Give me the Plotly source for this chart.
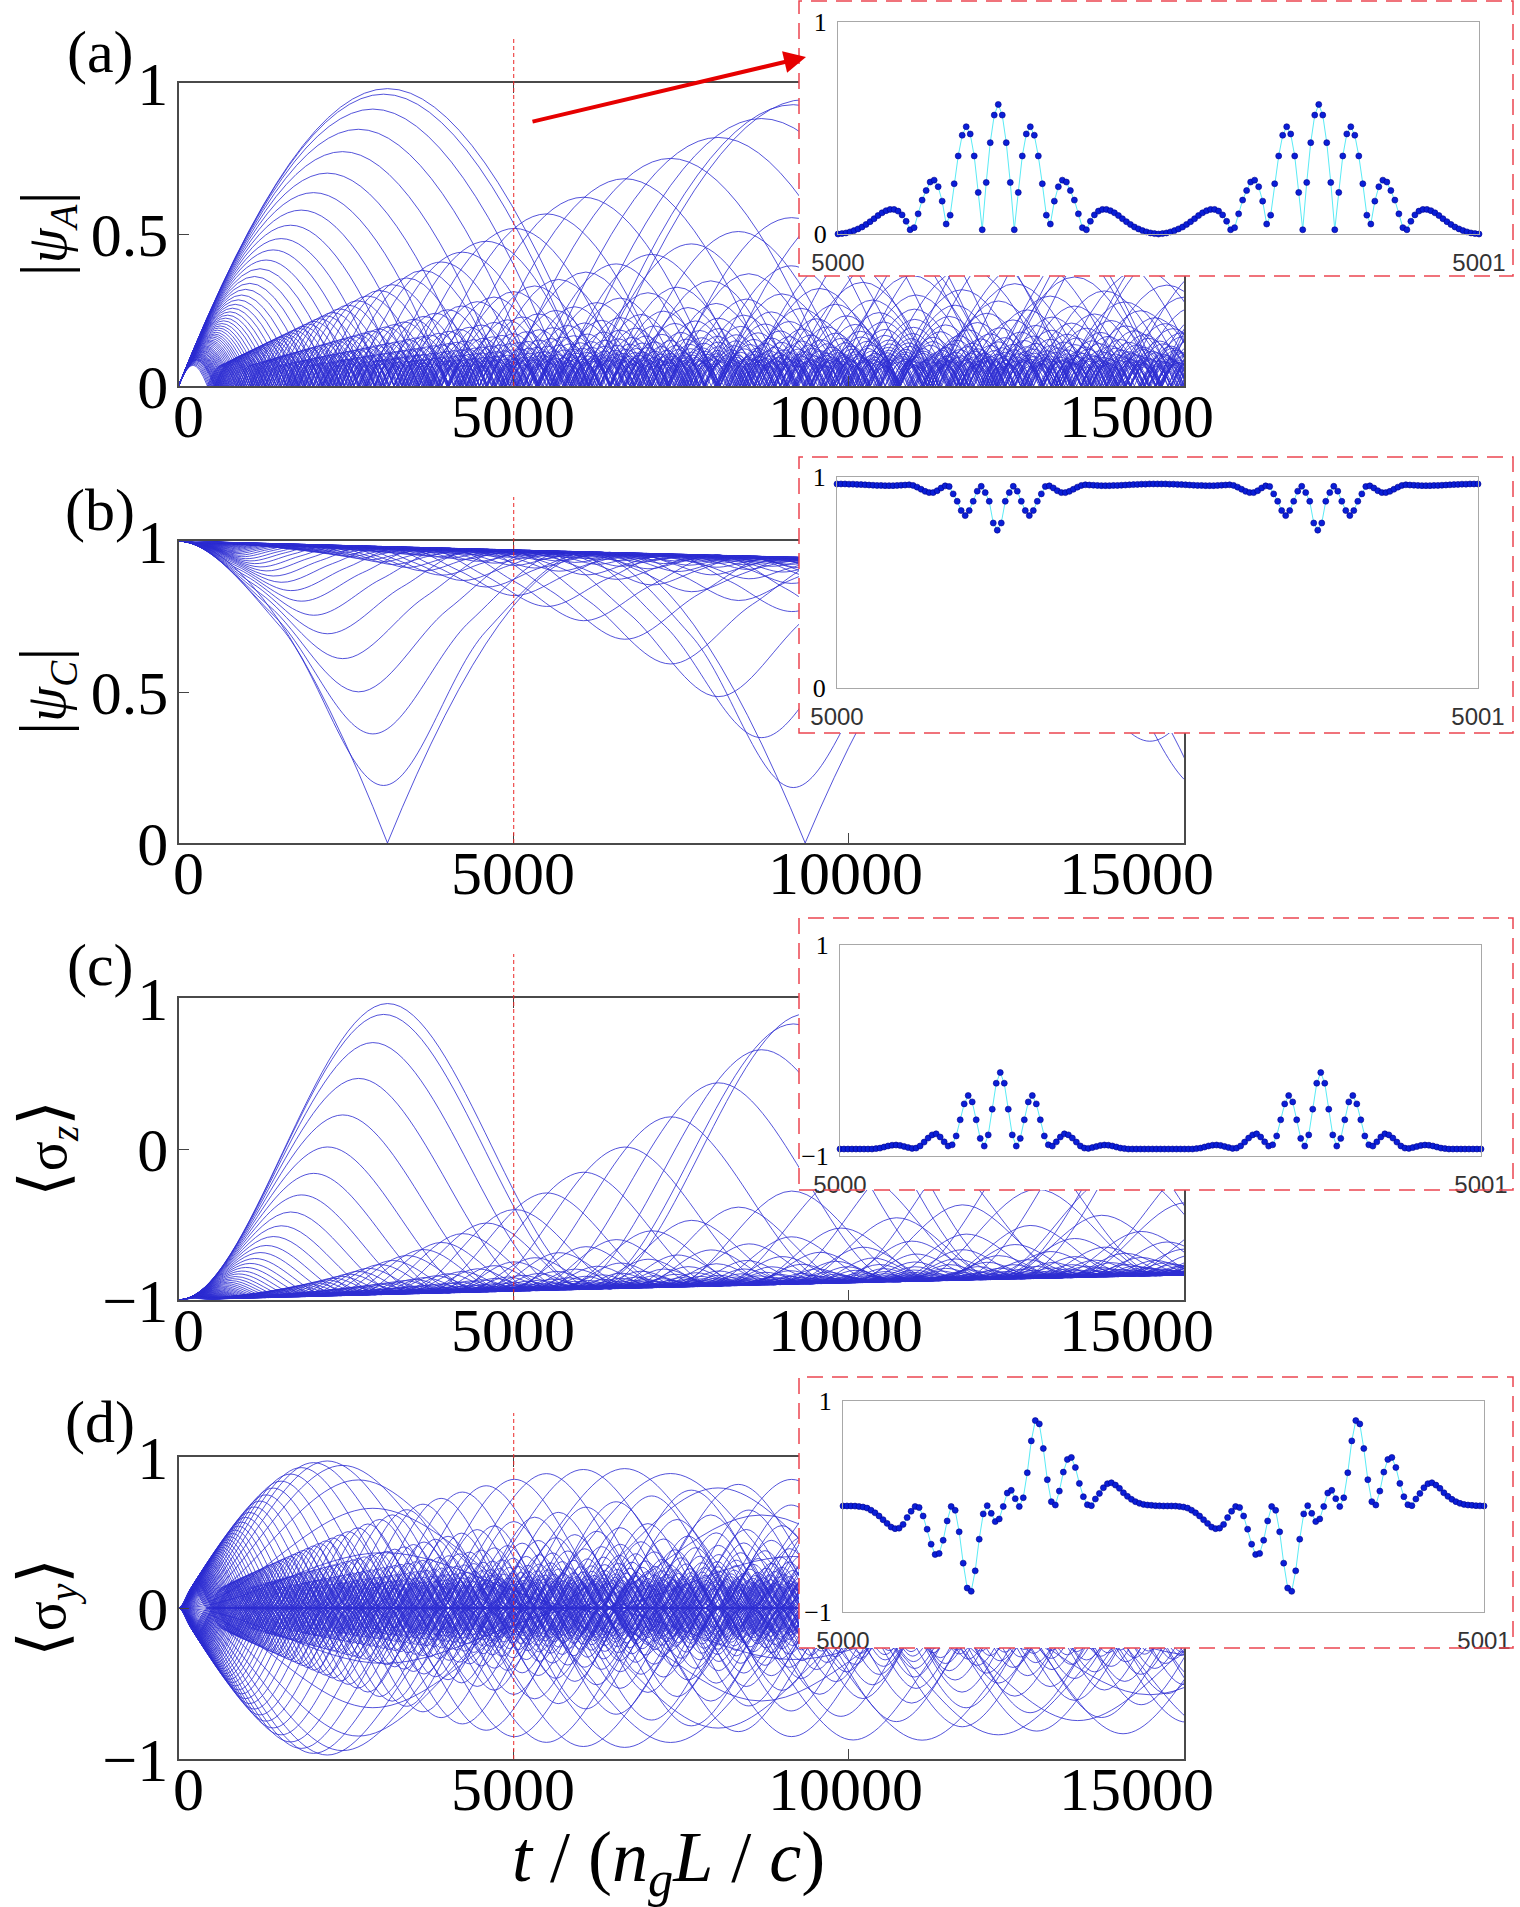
import numpy as np
import plotly.graph_objects as go

T_RES = 3116
LOSS = 6.0e-6
T_MAX = 15000

# first-arch peak height of each |psi_A| curve in (a), outermost to innermost
peak_amp = [1.000, 0.981, 0.930, 0.861, 0.785, 0.712, 0.646, 0.587, 0.536, 0.491,
            0.453, 0.419, 0.390, 0.364, 0.341, 0.321, 0.302, 0.286, 0.271, 0.258,
            0.246, 0.235, 0.225, 0.216, 0.207, 0.199, 0.192, 0.185, 0.178, 0.172,
            0.167, 0.162, 0.157, 0.152, 0.148, 0.144, 0.140, 0.136, 0.132, 0.129,
            0.126, 0.123, 0.120, 0.117, 0.115, 0.112, 0.110, 0.107, 0.105, 0.103,
            0.101, 0.099, 0.097, 0.095, 0.094, 0.092, 0.090, 0.089, 0.087, 0.086, 0.084,
            0.081, 0.078, 0.075, 0.072, 0.069]

# insets: one half round trip (80 samples from 5000 on), the second half repeats it
inset_a = [0.000, 0.002, 0.005, 0.010, 0.016, 0.024, 0.033, 0.045, 0.058, 0.072,
           0.087, 0.100, 0.110, 0.116, 0.116, 0.108, 0.090, 0.060, 0.020, 0.030,
           0.095, 0.160, 0.205, 0.245, 0.254, 0.223, 0.155, 0.047, 0.089, 0.237,
           0.368, 0.466, 0.506, 0.472, 0.368, 0.196, 0.020, 0.243, 0.431, 0.561,
           0.611, 0.561, 0.431, 0.243, 0.020, 0.196, 0.368, 0.472, 0.506, 0.466,
           0.368, 0.237, 0.089, 0.047, 0.155, 0.223, 0.254, 0.245, 0.205, 0.160,
           0.095, 0.030, 0.020, 0.060, 0.090, 0.108, 0.116, 0.116, 0.110, 0.100,
           0.087, 0.072, 0.058, 0.045, 0.033, 0.024, 0.016, 0.010, 0.005, 0.002]
inset_b = [0.967, 0.967, 0.967, 0.966, 0.966, 0.965, 0.964, 0.963, 0.962, 0.961,
           0.960, 0.960, 0.959, 0.959, 0.959, 0.960, 0.961, 0.962, 0.963, 0.960,
           0.952, 0.942, 0.932, 0.926, 0.926, 0.935, 0.948, 0.958, 0.955, 0.920,
           0.885, 0.841, 0.817, 0.841, 0.885, 0.933, 0.956, 0.926, 0.885, 0.782,
           0.748, 0.782, 0.885, 0.926, 0.956, 0.933, 0.885, 0.841, 0.817, 0.841,
           0.885, 0.920, 0.955, 0.958, 0.948, 0.935, 0.926, 0.926, 0.932, 0.942,
           0.952, 0.960, 0.963, 0.962, 0.961, 0.960, 0.959, 0.959, 0.959, 0.960,
           0.960, 0.961, 0.962, 0.963, 0.964, 0.965, 0.966, 0.966, 0.967, 0.967]
inset_c = [-0.934, -0.934, -0.934, -0.934, -0.934, -0.934, -0.934, -0.934, -0.934, -0.930,
           -0.925, -0.915, -0.905, -0.898, -0.896, -0.900, -0.910, -0.920, -0.928, -0.925,
           -0.905, -0.868, -0.830, -0.800, -0.790, -0.820, -0.866, -0.906, -0.894, -0.810,
           -0.657, -0.506, -0.427, -0.487, -0.657, -0.833, -0.906, -0.800, -0.556, -0.310,
           -0.209, -0.310, -0.556, -0.800, -0.906, -0.833, -0.657, -0.487, -0.427, -0.506,
           -0.657, -0.810, -0.894, -0.906, -0.866, -0.820, -0.790, -0.800, -0.830, -0.868,
           -0.905, -0.925, -0.928, -0.920, -0.910, -0.900, -0.896, -0.898, -0.905, -0.915,
           -0.925, -0.930, -0.934, -0.934, -0.934, -0.934, -0.934, -0.934, -0.934, -0.934]
inset_d = [0.005, 0.005, 0.005, 0.004, 0.000, -0.005, -0.015, -0.035, -0.060, -0.090,
           -0.125, -0.160, -0.195, -0.210, -0.205, -0.170, -0.105, -0.045, 0.000, -0.010,
           -0.090, -0.215, -0.357, -0.455, -0.445, -0.320, -0.137, 0.000, -0.036, -0.240,
           -0.537, -0.773, -0.804, -0.610, -0.310, -0.070, 0.008, -0.065, -0.143, -0.118,
           0.000, 0.128, 0.153, 0.074, 0.000, 0.083, 0.320, 0.622, 0.814, 0.783,
           0.550, 0.254, 0.046, 0.014, 0.146, 0.326, 0.446, 0.465, 0.370, 0.219,
           0.093, 0.017, 0.008, 0.071, 0.124, 0.178, 0.216, 0.225, 0.203, 0.172,
           0.130, 0.096, 0.068, 0.046, 0.030, 0.020, 0.014, 0.011, 0.008, 0.006]

x_ticks = [0, 5000, 10000, 15000]


def env(t):
    return float(np.exp(-LOSS * t))


# (a): every curve is a row of arches; one spline per arch keeps the cusps at zero
def curves_a():
    xs, ys = [], []
    for a in peak_amp:
        tp = T_RES * a
        m = 0
        while m * tp < T_MAX:
            xs += [m * tp, (m + 1) * tp, (m + 2) * tp, None]
            ys += [0, a * env((m + 1) * tp), 0, None]
            m += 2
    return xs, ys


# (b): maxima, quarter points and minima of |psi_C|; the resonant curve has sharp minima
def curves_b():
    xs, ys, xv, yv = [], [], [], []
    for a in peak_amp:
        tp = T_RES * a
        if a > 0.999:
            m = -1
            while m * tp < T_MAX:
                xv += [m * tp, (m + 1) * tp, (m + 2) * tp, None]
                yv += [0, env((m + 1) * tp), 0, None]
                m += 2
            continue
        low = np.sqrt(1 - a * a)
        mid = np.sqrt(1 - a * a / 2)
        j = -2
        while j * tp / 2 < T_MAX + tp:
            t = j * tp / 2
            if j % 2:
                v = mid
            elif (j // 2) % 2:
                v = low
            else:
                v = 1.0
            xs.append(t)
            ys.append(v * env(t))
            j += 1
        xs.append(None)
        ys.append(None)
    return xs, ys, xv, yv


# (c): bumps rising from the lower line
def curves_c():
    xs, ys = [], []
    for a in peak_amp:
        tp = T_RES * a
        top = 2 * a * a - 1
        for j in range(-1, int(T_MAX / tp) + 3):
            t = j * tp
            xs.append(t)
            ys.append((top if j % 2 else -1.0) * env(t) ** 2)
        xs.append(None)
        ys.append(None)
    return xs, ys


# (d): same-sign lobes for each detuning, mirrored for the opposite one
def curves_d():
    xs, ys = [], []
    for a in peak_amp:
        tp = T_RES * a
        h = 2 * a * np.sqrt(max(0.0, 1 - a * a))
        for s in ([1] if h < 1e-6 else [1, -1]):
            for j in range(-1, int(T_MAX / tp) + 3):
                t = j * tp
                xs.append(t)
                ys.append((s * h if j % 2 else 0.0) * env(t) ** 2)
            xs.append(None)
            ys.append(None)
    return xs, ys


W, H = 1520, 1907


def hx(p):
    return p / W


def vy(p):
    return 1 - p / H


BLUE = 'rgba(45,45,210,0.82)'
panels = [(83, 386), (541, 843), (998, 1300), (1457, 1759)]
frames = [(799, 1513, 1, 276), (799, 1513, 457, 733), (799, 1513, 918, 1190), (799, 1513, 1377, 1648)]
insets = [(838, 1479, 22, 234), (837, 1478, 477, 688), (840, 1481, 945, 1156), (843, 1484, 1401, 1612)]
xlabel_px = [188, 513, 845, 1136]

fig = go.Figure()

ax, ay = curves_a()
bx, by, bvx, bvy = curves_b()
cx, cy = curves_c()
dx, dy = curves_d()
main_sets = [[(ax, ay, 1.3)], [(bx, by, 1.0), (bvx, bvy, 1.3)], [(cx, cy, 1.0)], [(dx, dy, 1.0)]]

for i, sets in enumerate(main_sets):
    sx = '' if i == 0 else str(i + 1)
    for xs, ys, sm in sets:
        fig.add_trace(go.Scatter(x=xs, y=ys, mode='lines', xaxis='x' + sx, yaxis='y' + sx,
                                 line=dict(color=BLUE, width=1, shape='spline', smoothing=sm, simplify=False),
                                 hoverinfo='skip', connectgaps=False))

# empty traces so the frame subplots exist (their white backgrounds hide the lines behind)
for i in range(4):
    n = str(i + 5)
    fig.add_trace(go.Scatter(x=[None], y=[None], xaxis='x' + n, yaxis='y' + n, hoverinfo='skip'))

t_in = np.linspace(5000, 5001, 161)
for i, half in enumerate([inset_a, inset_b, inset_c, inset_d]):
    n = str(i + 9)
    fig.add_trace(go.Scatter(x=t_in, y=half + half + [half[0]], mode='lines+markers',
                             xaxis='x' + n, yaxis='y' + n, cliponaxis=False,
                             line=dict(color='rgb(90,235,245)', width=1),
                             marker=dict(size=6, color='rgb(10,30,215)',
                                         line=dict(width=0.6, color='rgb(0,0,140)')),
                             hoverinfo='skip'))

lay = {}
serif = 'Liberation Serif, Times New Roman, serif'
for i, (top, bot) in enumerate(panels):
    sx = '' if i == 0 else str(i + 1)
    lay['xaxis' + sx] = dict(domain=[hx(178.6), hx(1184)], range=[0, T_MAX], anchor='y' + sx,
                             tickvals=x_ticks, showticklabels=False,
                             ticks='inside', ticklen=10, tickcolor='#444', showline=True,
                             mirror='ticks', linecolor='#4a4a4a', linewidth=2, showgrid=False,
                             zeroline=False, automargin=False)
    if i < 2:
        yr, tv, tt = [0, 1], [0, 0.5, 1], ['0', '0.5', '1']
    else:
        yr, tv, tt = [-1, 1], [-1, 0, 1], ['\u22121', '0', '1']
    lay['yaxis' + sx] = dict(domain=[vy(bot), vy(top)], range=yr, anchor='x' + sx,
                             tickvals=tv, ticktext=tt, ticks='inside', ticklen=10, tickcolor='#444',
                             showline=True, mirror='ticks', linecolor='#4a4a4a', linewidth=2,
                             showgrid=False, zeroline=False,
                             tickfont=dict(family=serif, size=62, color='black'),
                             ticklabelstandoff=-4, automargin=False)

for i, (x0, x1, y0, y1) in enumerate(frames):
    n = str(i + 5)
    blank = dict(showgrid=False, zeroline=False, showticklabels=False, ticks='', showline=False,
                 automargin=False)
    lay['xaxis' + n] = dict(domain=[hx(x0), hx(x1)], anchor='y' + n, range=[0, 1], **blank)
    lay['yaxis' + n] = dict(domain=[vy(y1), vy(y0)], anchor='x' + n, range=[0, 1], **blank)

for i, (x0, x1, y0, y1) in enumerate(insets):
    n = str(i + 9)
    lay['xaxis' + n] = dict(domain=[hx(x0), hx(x1)], anchor='y' + n, range=[5000, 5001],
                            tickvals=[5000, 5001], ticktext=['5000', '5001'], ticks='',
                            showline=True, mirror=True, linecolor='#a8a8a8', linewidth=1,
                            showgrid=False, zeroline=False, automargin=False, ticklabelstandoff=7,
                            tickfont=dict(family='Liberation Sans, Arial, sans-serif', size=24, color='#333'))
    lo = 0 if i < 2 else -1
    lay['yaxis' + n] = dict(domain=[vy(y1), vy(y0)], anchor='x' + n, range=[lo, 1],
                            tickvals=[lo, 1], ticktext=['0' if lo == 0 else '\u22121', '1'], ticks='',
                            showline=True, mirror=True, linecolor='#a8a8a8', linewidth=1,
                            showgrid=False, zeroline=False, ticklabelstandoff=5, automargin=False,
                            tickfont=dict(family=serif, size=26, color='black'))

shapes = []
for i, (top, bot) in enumerate(panels):
    sx = '' if i == 0 else str(i + 1)
    shapes.append(dict(type='line', xref='x' + sx, yref='paper', x0=5000, x1=5000,
                       y0=vy(bot), y1=vy(top - 44), layer='above',
                       line=dict(color='rgb(235,40,40)', width=1, dash='4px,3px')))
for x0, x1, y0, y1 in frames:
    shapes.append(dict(type='rect', xref='paper', yref='paper', x0=hx(x0), x1=hx(x1),
                       y0=vy(y1), y1=vy(y0), layer='above',
                       line=dict(color='rgb(235,70,80)', width=1.5, dash='16px,9px')))

big = '<span style="font-size:66px">{}</span>'
titles = [big.format('|') + '<i>\u03c8</i><sub><i>A</i></sub>' + big.format('|'),
          big.format('|') + '<i>\u03c8</i><sub><i>C</i></sub>' + big.format('|'),
          big.format('\u27e8') + '\u03c3<sub><i>z</i></sub>' + big.format('\u27e9'),
          big.format('\u27e8') + '\u03c3<sub><i>y</i></sub>' + big.format('\u27e9')]
labels = ['(a)', '(b)', '(c)', '(d)']
label_y = [52, 510, 965, 1422]
annotations = []
for i, (top, bot) in enumerate(panels):
    annotations.append(dict(text=titles[i], x=hx(46), y=vy((top + bot) / 2), xref='paper', yref='paper',
                            xanchor='center', yanchor='middle', showarrow=False, textangle=-90,
                            font=dict(family=serif + ', DejaVu Serif', size=56, color='black')))
    annotations.append(dict(text=labels[i], x=hx(100), y=vy(label_y[i]), xref='paper', yref='paper',
                            xanchor='center', yanchor='middle', showarrow=False,
                            font=dict(family=serif, size=60, color='black')))
    for v, px in zip(x_ticks, xlabel_px):
        annotations.append(dict(text=str(v), x=hx(px), y=vy(bot + 30), xref='paper', yref='paper',
                                xanchor='center', yanchor='middle', showarrow=False,
                                font=dict(family=serif, size=62, color='black')))
annotations.append(dict(text='<i>t</i> / (<i>n</i><sub><i>g</i></sub><i>L</i> / <i>c</i>)',
                        x=hx(668), y=vy(1862), xref='paper', yref='paper', showarrow=False,
                        xanchor='center', yanchor='middle',
                        font=dict(family=serif, size=72, color='black')))
annotations.append(dict(text='', x=hx(806), y=vy(57), xref='paper', yref='paper', showarrow=True,
                        ax=531 - 806, ay=122 - 57, arrowhead=2, arrowsize=1.1, arrowwidth=4,
                        arrowcolor='rgb(230,0,0)'))

fig.update_layout(**lay)
fig.update_layout(template='none', width=W, height=H, margin=dict(l=0, r=0, t=0, b=0, pad=0),
                  autosize=False, showlegend=False,
                  plot_bgcolor='white', paper_bgcolor='white', shapes=shapes, annotations=annotations)

fig.write_html("out.html", config={'displayModeBar': False},
               post_script="document.body.style.margin='0px';")
